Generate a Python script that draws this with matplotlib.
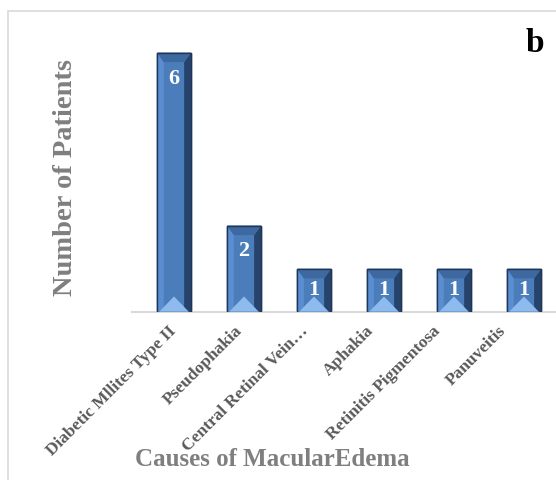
import matplotlib.pyplot as plt
from matplotlib.patches import Polygon, Rectangle
from matplotlib.transforms import ScaledTranslation

causes = ['Diabetic Mllites Type II', 'Pseudophakia', 'Central Retinal Vein\u2026',
          'Aphakia', 'Retinitis Pigmentosa', 'Panuveitis']
patients = [6, 2, 1, 1, 1, 1]

plt.rcParams['font.family'] = ['Liberation Serif', 'DejaVu Serif']
plt.rcParams['font.weight'] = 'bold'

fig = plt.figure(figsize=(5.56, 4.8), dpi=100)

# light frame around the chart area
fig.add_artist(Rectangle((8 / 556, -0.1), 1.2, 1 - 11 / 480 + 0.1, transform=fig.transFigure,
                         fill=False, edgecolor='#D9D9D9', linewidth=1.2))

ax = fig.add_axes([132 / 556, 168 / 480, 427 / 556, 281 / 480])
ax.set_xlim(-0.6, 5.5)
ax.set_ylim(0, 6.5)

w = 0.49
bx = 0.1    # side bevel width
by = 0.22   # top bevel height
tri = 0.36  # height of the light bottom wedge

ax.bar(range(len(causes)), patients, width=w, color='#4A7DBA',
       edgecolor='#1F3659', linewidth=1.0, zorder=2)

for i, v in enumerate(patients):
    x0, x1 = i - w / 2, i + w / 2
    # left and right bevel strips
    ax.add_patch(Polygon([(x0, 0), (x0 + bx, 0), (x0 + bx, v - by), (x0, v)],
                         closed=True, facecolor='#5A8ED0', edgecolor='none', zorder=3))
    ax.add_patch(Polygon([(x1, 0), (x1 - bx, 0), (x1 - bx, v - by), (x1, v)],
                         closed=True, facecolor='#26436B', edgecolor='none', zorder=3))
    # top bevel
    ax.add_patch(Polygon([(x0, v), (x1, v), (x1 - bx, v - by), (x0 + bx, v - by)],
                         closed=True, facecolor='#3E69A0', edgecolor='none', zorder=3))
    # bottom wedge
    ax.add_patch(Polygon([(x0 + 0.03, 0), (x1 - 0.03, 0), (i, tri)],
                         closed=True, facecolor='#8DBBEE', edgecolor='none', zorder=3))
    ax.add_patch(Rectangle((x0, 0), w, v, fill=False, edgecolor='#1F3659',
                           linewidth=1.0, zorder=4))
    ax.text(i, v - min(0.6, v / 2), str(v), ha='center', va='center',
            color='white', fontsize=16, fontweight='bold', zorder=5)

for s in ['top', 'right', 'left']:
    ax.spines[s].set_visible(False)
ax.spines['bottom'].set_color('#D9D9D9')
ax.spines['bottom'].set_linewidth(1.5)
ax.set_yticks([])
ax.set_xticks(range(len(causes)))
ax.set_xticklabels(causes, rotation=45, ha='right', rotation_mode='anchor',
                   fontsize=12.5, fontweight='bold', color='#595959')
ax.tick_params(axis='x', length=0, pad=8)
# rotated labels drift left a little more for each category
for i, lab in enumerate(ax.get_xticklabels()):
    shift = ScaledTranslation(-(6 + 4 * i) / 100, 0, fig.dpi_scale_trans)
    lab.set_transform(lab.get_transform() + shift)

fig.text(65 / 556, 1 - 178 / 480, 'Number of Patients', rotation=90, ha='center', va='center',
         fontsize=20.5, fontweight='bold', color='#7F7F7F')
fig.text(272 / 556, 1 - 459 / 480, 'Causes of MacularEdema', ha='center', va='center',
         fontsize=18, fontweight='bold', color='#7F7F7F')
fig.text(535 / 556, 1 - 44 / 480, 'b', ha='center', va='center',
         fontsize=24, fontweight='bold', color='black')

fig.savefig('out.png', dpi=100)
